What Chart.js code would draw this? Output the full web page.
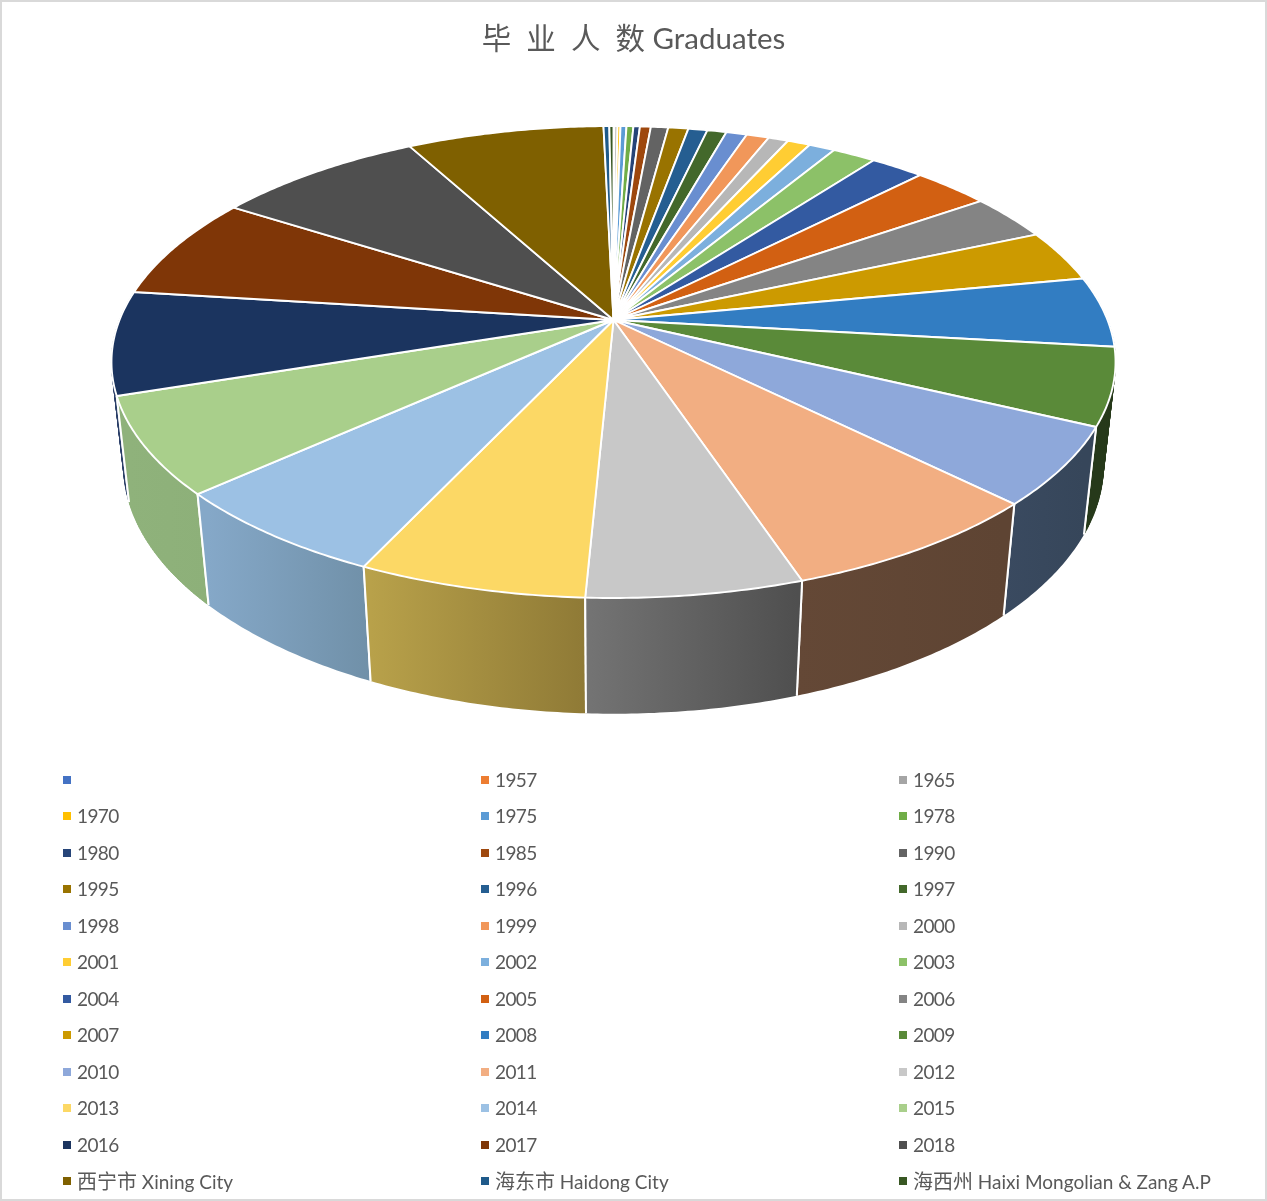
<!DOCTYPE html>
<html><head><meta charset="utf-8">
<style>
html,body{margin:0;padding:0;background:#fff;}
#wrap{position:relative;width:1267px;height:1201px;overflow:hidden;background:#fff;}
#frame{position:absolute;left:0;top:0;right:0;bottom:0;border:2px solid #d9d9d9;box-sizing:border-box;pointer-events:none;}
canvas{position:absolute;left:0;top:0;}
.lg{position:absolute;font:19px Lato,"Noto Sans CJK SC",sans-serif;color:#595959;line-height:24px;white-space:nowrap;}
.lg.num{letter-spacing:-0.6px;}
.lg span{font-size:20px;}
.sw{position:absolute;width:8px;height:8px;}
</style>
<script src="https://cdn.jsdelivr.net/npm/chart.js@4"></script>
</head><body>
<div id="wrap"><canvas id="c" width="1267" height="1201"></canvas><div id="frame"></div></div>
<script>
const categories = ["","1957","1965","1970","1975","1978","1980","1985","1990","1995","1996","1997","1998","1999","2000","2001","2002","2003","2004","2005","2006","2007","2008","2009","2010","2011","2012","2013","2014","2015","2016","2017","2018","西宁市 Xining City","海东市 Haidong City","海西州 Haixi Mongolian & Zang A.P"];
const graduates = [7,7,41,41,82,95,89,150,238,277,263,265,285,310,275,315,360,600,740,1060,1140,1280,1740,1900,1920,2670,2120,2240,2275,2385,2550,2540,2890,2713,80,57];
const colors = ["#4472c4","#ed7d31","#a5a5a5","#ffc000","#5b9bd5","#70ad47","#264478","#9e480e","#636363","#997300","#255e91","#43682b","#698ed0","#f1975a","#b7b7b7","#ffcd33","#7cafdd","#8cc168","#335aa1","#d26012","#848484","#cc9a00","#327dc2","#5a8a39","#8ea8da","#f2ae82","#c8c8c8","#fcd865","#9cc1e4","#a9cf8b","#1b345f","#7f3607","#4f4f4f","#7f6000","#1f5a8a","#385723"];
const wallLeft = {23:"#26391a",24:"#3a4a60",25:"#644836",26:"#747474",27:"#b8a14a",28:"#85a8c8",29:"#8fb27b",30:"#2b3f68"};
const wallRight = {23:"#26391a",24:"#36465a",25:"#5e4433",26:"#4f4f4f",27:"#8f7a36",28:"#7090a8",29:"#8db079",30:"#2b3f68"};
const titleText = "毕  业  人  数 Graduates";

/* tilt of the pie: circle → perspective ellipse, top face and lower rim */
const P = {cx:613.5, cy:320, A:494, B:228.5, k:0.178, m:0.024, n:104.6};
function proj(a, lower){
  const u=Math.cos(a), v=Math.sin(a), d=1-P.k*v+(lower?P.m:0);
  return [P.cx+P.A*u/d, P.cy+(P.B*v+(lower?P.n:0))/d];
}
function rim(a0,a1,lower){
  const n=Math.max(2,Math.ceil((a1-a0)/0.01)), pts=[];
  for(let i=0;i<=n;i++) pts.push(proj(a0+(a1-a0)*i/n,lower));
  return pts;
}
const tilted = {
  id:'tilted',
  beforeDatasetDraw(chart,args){
    const ctx=chart.ctx, arcs=chart.getDatasetMeta(args.index).data;
    ctx.save();
    ctx.lineJoin='round';
    const order=arcs.map((e,i)=>i).sort((p,q)=>
      Math.sin((arcs[p].startAngle+arcs[p].endAngle)/2)-Math.sin((arcs[q].startAngle+arcs[q].endAngle)/2));
    order.forEach(i=>{
      const e=arcs[i];
      if(Math.sin(e.endAngle)<-0.05 && Math.sin(e.startAngle)<-0.05) return;
      const t=rim(e.startAngle,e.endAngle,false), b=rim(e.startAngle,e.endAngle,true);
      const xs=b.map(p=>p[0]), g=ctx.createLinearGradient(Math.min(...xs),0,Math.max(...xs),0);
      g.addColorStop(0,wallLeft[i]||colors[i]); g.addColorStop(1,wallRight[i]||colors[i]);
      ctx.fillStyle=g; ctx.strokeStyle=g; ctx.lineWidth=0.7;
      ctx.beginPath();
      t.concat(b.slice().reverse()).forEach((p,j)=>j?ctx.lineTo(p[0],p[1]):ctx.moveTo(p[0],p[1]));
      ctx.closePath(); ctx.fill();
      /* the side walls fold over the silhouette: fill them strip by strip */
      if(Math.min(Math.abs(Math.sin(e.startAngle)),Math.abs(Math.sin(e.endAngle)))<0.35){
        for(let j=0;j<t.length-1;j++){
          ctx.beginPath();
          ctx.moveTo(t[j][0],t[j][1]); ctx.lineTo(t[j+1][0],t[j+1][1]);
          ctx.lineTo(b[j+1][0],b[j+1][1]); ctx.lineTo(b[j][0],b[j][1]);
          ctx.closePath(); ctx.fill(); ctx.stroke();
        }
      }
      ctx.strokeStyle='#fff'; ctx.lineWidth=2;
      [[0,e.startAngle],[t.length-1,e.endAngle]].forEach(([j,a])=>{
        if(Math.sin(a)<0.15) return;
        ctx.beginPath(); ctx.moveTo(t[j][0],t[j][1]); ctx.lineTo(b[j][0],b[j][1]); ctx.stroke();
      });
    });
    arcs.forEach((e,i)=>{
      if(e.endAngle-e.startAngle<=0) return;
      const t=rim(e.startAngle,e.endAngle,false), o=[P.cx,P.cy];
      ctx.beginPath(); ctx.moveTo(o[0],o[1]);
      t.forEach(p=>ctx.lineTo(p[0],p[1]));
      ctx.closePath();
      ctx.fillStyle=colors[i]; ctx.fill();
      ctx.strokeStyle='#fff'; ctx.lineWidth=1.9; ctx.stroke();
    });
    ctx.restore();
    return false;
  }
};
new Chart(document.getElementById('c'),{
  type:'pie',
  data:{labels:categories,datasets:[{label:'Graduates',data:graduates,backgroundColor:colors,borderColor:'#fff',borderWidth:0}]},
  options:{
    responsive:false,animation:false,
    layout:{padding:0},
    plugins:{
      legend:{display:false},
      tooltip:{enabled:false},
      title:{display:true,text:titleText,color:'#595959',font:{family:'Lato,"Noto Sans CJK SC",sans-serif',size:29.5,weight:'normal'},padding:{top:22,bottom:10}}
    }
  },
  plugins:[tilted]
});
/* legend */
const wrap=document.getElementById('wrap');
const colX=[63,481,899];
const rowsY=[780,816,853,889,926,962,999,1035,1072,1108,1145,1181];
categories.forEach((label,i)=>{
  const c=i%3,r=Math.floor(i/3),s=document.createElement('div');
  s.className='sw'; s.style.left=colX[c]+'px'; s.style.top=(rowsY[r]-4)+'px'; s.style.background=colors[i];
  wrap.appendChild(s);
  const t=document.createElement('div');
  t.className='lg'; t.style.left=(colX[c]+14)+'px'; t.style.top=(rowsY[r]-12)+'px';
  const m=label.match(/^([\u4e00-\u9fff]+)( .*)$/);
  if(m){
    const cjk=document.createElement('span'); cjk.textContent=m[1];
    t.appendChild(cjk); t.appendChild(document.createTextNode(m[2]));
  } else { t.textContent=label; t.classList.add('num'); }
  wrap.appendChild(t);
});
</script>
</body></html>
